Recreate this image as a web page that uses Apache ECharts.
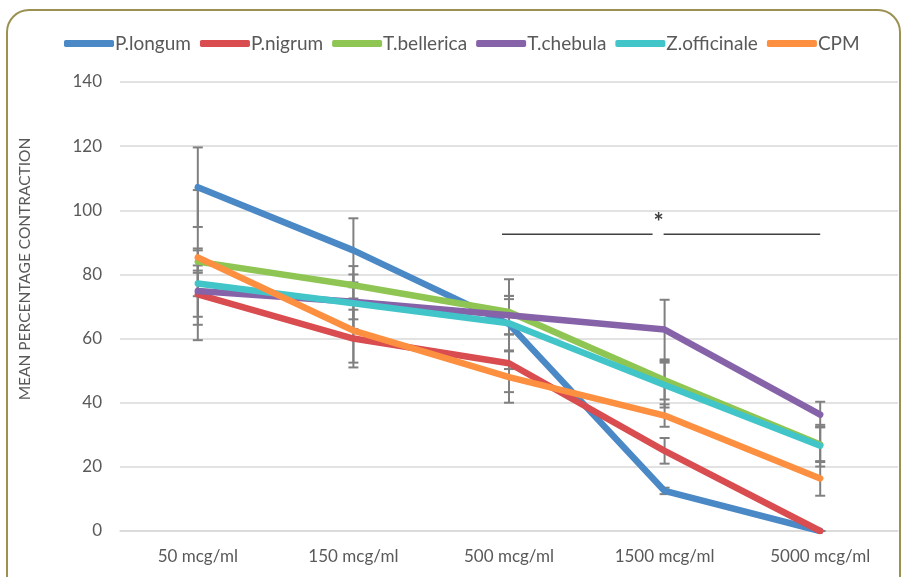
<!DOCTYPE html>
<html>
<head>
<meta charset="utf-8">
<script src="https://cdn.jsdelivr.net/npm/echarts@6/dist/echarts.min.js"></script>
<style>
html, body { margin: 0; padding: 0; background: #fff; }
#main { width: 902px; height: 577px; }
</style>
</head>
<body>
<div id="main"></div>
<script>
var categories = ['50 mcg/ml', '150 mcg/ml', '500 mcg/ml', '1500 mcg/ml', '5000 mcg/ml'];

// mean values
var pLongum     = [107.2, 87.5, 64.5, 12.5, 0];
var pNigrum     = [73.8, 60, 52.3, 25, 0];
var tBellerica  = [84, 76.6, 68.3, 47, 27];
var tChebula    = [74.8, 71.5, 67.3, 62.8, 36.3];
var zOfficinale = [77.2, 71, 64.8, 45.5, 26.6];
var cpm         = [85.3, 62.5, 48, 36, 16.4];

// error (+/-)
var errLongum     = [12.4, 10, 14, 1, 0];
var errNigrum     = [14.3, 9, 9, 4, 0];
var errBellerica  = [3.5, 6, 4, 6, 5.5];
var errChebula    = [8, 8.5, 6, 9.3, 4];
var errZofficinale = [4, 5, 8.5, 7, 6.5];
var errCpm        = [21, 10, 8, 3.5, 5.4];

var names  = ['P.longum', 'P.nigrum', 'T.bellerica', 'T.chebula', 'Z.officinale', 'CPM'];
var values = [pLongum, pNigrum, tBellerica, tChebula, zOfficinale, cpm];
var errors = [errLongum, errNigrum, errBellerica, errChebula, errZofficinale, errCpm];
var colors = ['#4a89c6', '#d94c4f', '#8fc553', '#8663a9', '#41c5c9', '#fc9040'];

var textColor = '#595959';
var font = 'Lato';

var errData = [];
values.forEach(function (vals, s) {
    vals.forEach(function (v, i) {
        errData.push([i, v - errors[s][i], v + errors[s][i]]);
    });
});

var myChart = echarts.init(document.getElementById('main'));

var series = names.map(function (n, s) {
    return {
        name: n,
        type: 'line',
        data: values[s],
        symbol: 'none',
        z: 3,
        lineStyle: { width: 6.5, color: colors[s], cap: 'round', join: 'round' },
        itemStyle: { color: colors[s] }
    };
});

series.unshift({
    type: 'custom',
    name: 'err',
    z: 2,
    data: errData,
    renderItem: function (params, api) {
        var lo = api.coord([api.value(0), api.value(1)]);
        var hi = api.coord([api.value(0), api.value(2)]);
        var style = { stroke: '#808080', lineWidth: 2 };
        return {
            type: 'group',
            children: [
                { type: 'line', shape: { x1: lo[0], y1: lo[1], x2: hi[0], y2: hi[1] }, style: style },
                { type: 'line', shape: { x1: lo[0] - 5, y1: lo[1], x2: lo[0] + 5, y2: lo[1] }, style: style },
                { type: 'line', shape: { x1: hi[0] - 5, y1: hi[1], x2: hi[0] + 5, y2: hi[1] }, style: style }
            ]
        };
    }
});

var option = {
    animation: false,
    textStyle: { fontFamily: font },
    legend: {
        data: names,
        top: 29,
        left: 59,
        icon: 'roundRect',
        itemWidth: 50,
        itemHeight: 7,
        itemGap: 9,
        textStyle: { color: textColor, fontSize: 19, fontFamily: font, padding: [0, 0, 0, -4] }
    },
    grid: { left: 120, right: 4, top: 82, bottom: 46 },
    xAxis: {
        type: 'category',
        data: categories,
        axisLine: { lineStyle: { color: '#d9d9d9', width: 1.5 } },
        axisTick: { show: false },
        axisLabel: { color: textColor, fontSize: 17, margin: 17, fontFamily: font }
    },
    yAxis: {
        type: 'value',
        min: 0,
        max: 140,
        interval: 20,
        axisLine: { show: false },
        axisTick: { show: false },
        axisLabel: { color: textColor, fontSize: 17, margin: 18, fontFamily: font },
        splitLine: { lineStyle: { color: '#d9d9d9', width: 1.5 } }
    },
    series: series
};

myChart.setOption(option);

// significance bracket between 500 and 5000 mcg/ml
var yStar = 92.5;
var pA = myChart.convertToPixel({ gridIndex: 0 }, [2, yStar]);
var pB = myChart.convertToPixel({ gridIndex: 0 }, [4, yStar]);
var mid = (pA[0] + pB[0]) / 2 - 6;

myChart.setOption({
    graphic: [
        {
            type: 'rect',
            shape: { x: 7, y: 10, width: 893, height: 620, r: 22 },
            style: { fill: null, stroke: '#9b9152', lineWidth: 2 },
            silent: true
        },
        {
            type: 'text',
            x: 25,
            y: 269,
            rotation: Math.PI / 2,
            style: {
                text: 'MEAN PERCENTAGE CONTRACTION',
                fill: textColor,
                font: '15.5px ' + font,
                align: 'center',
                verticalAlign: 'middle'
            }
        },
        {
            type: 'line',
            shape: { x1: pA[0] - 7, y1: pA[1], x2: mid - 6, y2: pA[1] },
            style: { stroke: '#404040', lineWidth: 1.5 }
        },
        {
            type: 'line',
            shape: { x1: mid + 5, y1: pA[1], x2: pB[0], y2: pA[1] },
            style: { stroke: '#404040', lineWidth: 1.5 }
        },
        {
            type: 'text',
            x: mid,
            y: pA[1] - 11,
            style: {
                text: '*',
                fill: '#404040',
                font: 'bold 24px ' + font,
                align: 'center',
                verticalAlign: 'middle'
            }
        }
    ]
});
</script>
</body>
</html>
